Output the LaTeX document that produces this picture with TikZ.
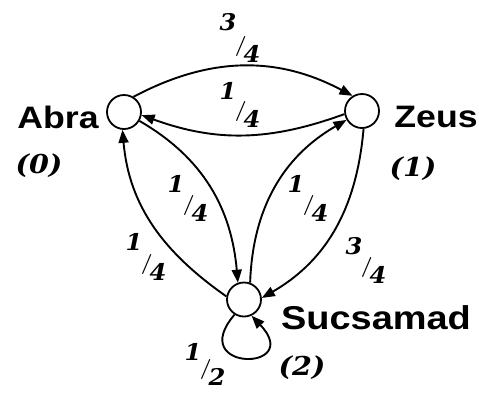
\documentclass[tikz,border=0pt]{standalone}
\usepackage{fontspec}
\setsansfont{Liberation Sans}
\newfontfamily\bfi{DejaVu Serif}
\usepackage{graphicx}
\usetikzlibrary{arrows.meta}
\newcommand\myfr[3][29pt]{\scalebox{1.05}[1]{\fontsize{23}{23}\bfi\bfseries\itshape\raisebox{#1}{#2}\kern-1.5pt\raisebox{11pt}{\fontsize{20}{20}\selectfont\rmfamily\upshape/}\kern-3pt#3}}
\newcommand\mynum[1]{\scalebox{1.1}[1]{\fontsize{26}{26}\bfi\bfseries\itshape #1}}
\newcommand\myname[2]{\scalebox{1.15}[1]{\fontsize{#1}{#1}\selectfont\sffamily\bfseries #2}}
\tikzset{
  state/.style={circle,draw,line width=1.8pt,minimum size=34pt,inner sep=0pt},
  lab/.style={inner sep=0pt},
  edge/.style={line width=1.9pt,-{Triangle[length=13pt,width=10pt]}}
}
\begin{document}
\begin{tikzpicture}[x=1pt,y=1pt]
\useasboundingbox (0,0) rectangle (479,-392);
\node[state] (A) at (124,-112) {};
\node[state] (Z) at (362,-111) {};
\node[state] (S) at (244,-299.5) {};
\node[lab] (An) at (58,-117) {\myname{31}{Abra}};
\node[lab] (Zn) at (436,-117) {\myname{31}{Zeus}};
\node[lab] (Sn) at (376,-318) {\myname{33}{Sucsamad}};
\node[lab] (A0) at (39,-166) {\mynum{(0)}};
\node[lab] (Z1) at (413,-169) {\mynum{(1)}};
\node[lab] (S2) at (302,-368) {\mynum{(2)}};
\draw[edge] (A.58) to[out=28,in=152] (Z.122);
\draw[edge] (Z.190) to[out=200,in=-20] (A.-10);
\draw[edge] (S.170) to[out=145,in=-85] (A.-95);
\draw[edge] (A.-30) to[out=-30,in=95] (S.110);
\draw[edge] (S.70) to[out=88,in=210] (Z.210);
\draw[edge] (Z.-85) to[out=-95,in=30] (S.5);
\draw[edge] (S.-122) .. controls (185,-372) and (305,-372) .. (S.-65);
\node[lab] (f1) at (240,-38) {\myfr[32pt]{3}{4}};
\node[lab] (f2) at (240,-105) {\myfr[28pt]{1}{4}};
\node[lab] (f3) at (146,-257) {\myfr[30pt]{1}{4}};
\node[lab] (f4) at (188,-198) {\myfr{1}{4}};
\node[lab] (f5) at (308,-198) {\myfr{1}{4}};
\node[lab] (f6) at (366,-260) {\myfr{3}{4}};
\node[lab] (f7) at (205,-364) {\myfr[25pt]{1}{2}};
\end{tikzpicture}
\end{document}
